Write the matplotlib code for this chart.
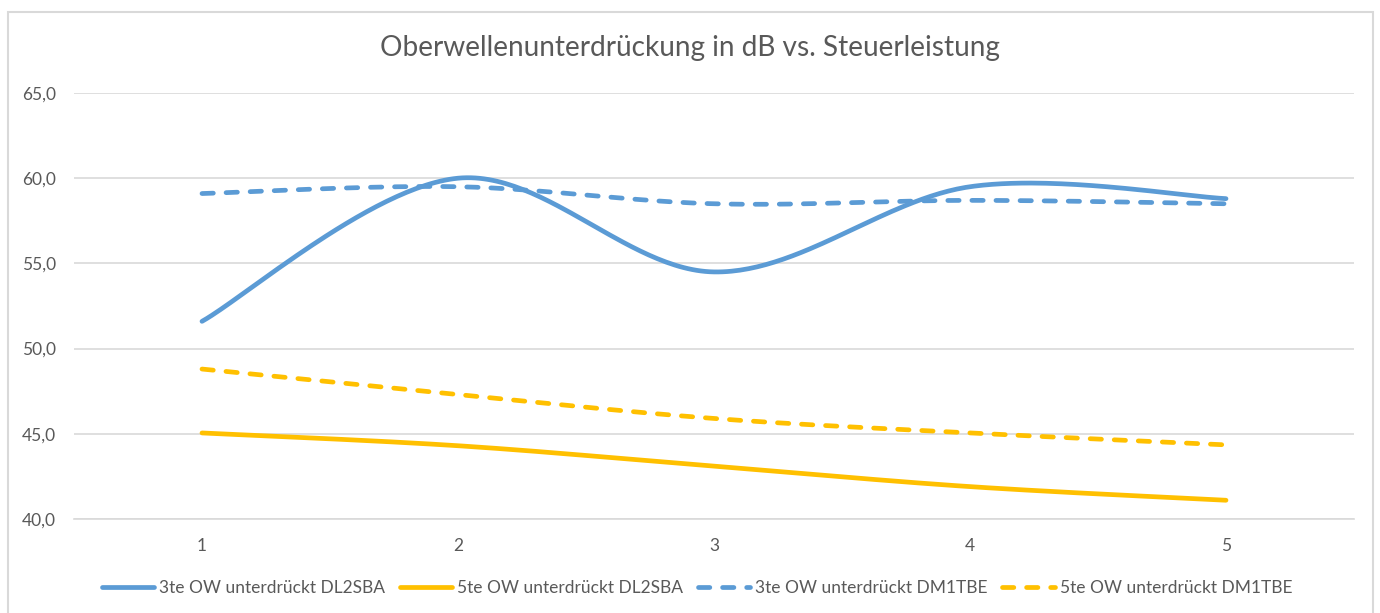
import numpy as np
import matplotlib
matplotlib.use("Agg")
import matplotlib.pyplot as plt
from matplotlib.ticker import FuncFormatter, MultipleLocator
from matplotlib.patches import Rectangle

categories = [1, 2, 3, 4, 5]
ow3_dl2sba = [51.6, 60.0, 54.5, 59.5, 58.8]
ow5_dl2sba = [45.05, 44.3, 43.1, 41.9, 41.1]
ow3_dm1tbe = [59.1, 59.5, 58.5, 58.7, 58.5]
ow5_dm1tbe = [48.8, 47.3, 45.9, 45.05, 44.35]
labels = ["3te OW unterdrückt DL2SBA", "5te OW unterdrückt DL2SBA",
          "3te OW unterdrückt DM1TBE", "5te OW unterdrückt DM1TBE"]
title = "Oberwellenunterdrückung in dB vs. Steuerleistung"

BLUE = "#5B9BD5"
YELLOW = "#FFC000"
TXT = "#595959"
GRID = "#D9D9D9"

plt.rcParams['font.family'] = ['Lato', 'DejaVu Sans']


def smooth(x, y, n=60):
    # Catmull-Rom style Bezier smoothing (like Excel smoothed lines)
    x = np.asarray(x, float)
    y = np.asarray(y, float)
    P = np.column_stack([x, y])
    out = []
    for i in range(len(P) - 1):
        p0 = P[i - 1] if i > 0 else P[i]
        p1 = P[i]
        p2 = P[i + 1]
        p3 = P[i + 2] if i + 2 < len(P) else P[i + 1]
        c1 = p1 + (p2 - p0) / 6.0
        c2 = p2 - (p3 - p1) / 6.0
        t = np.linspace(0, 1, n)[:, None]
        seg = ((1 - t) ** 3) * p1 + 3 * ((1 - t) ** 2) * t * c1 + 3 * (1 - t) * t ** 2 * c2 + t ** 3 * p2
        if i > 0:
            seg = seg[1:]
        out.append(seg)
    out = np.vstack(out)
    return out[:, 0], out[:, 1]


fig = plt.figure(figsize=(13.8, 6.13), dpi=100)
W, H = 1380, 613
ax = fig.add_axes([74 / W, (H - 519) / H, 1280 / W, 426 / H])

lw = 3.4
series = [
    (ow3_dl2sba, BLUE, "-"),
    (ow5_dl2sba, YELLOW, "-"),
    (ow3_dm1tbe, BLUE, "--"),
    (ow5_dm1tbe, YELLOW, "--"),
]
handles = []
for (vals, col, ls), lab in zip(series, labels):
    sx, sy = smooth(categories, vals)
    kw = dict(color=col, lw=lw, solid_capstyle="round", dash_capstyle="round", label=lab)
    if ls == "--":
        line, = ax.plot(sx, sy, dashes=(2.4, 2.7), **kw)
    else:
        line, = ax.plot(sx, sy, **kw)
    handles.append(line)

ax.set_xlim(0.5, 5.5)
ax.set_ylim(40, 65)
ax.yaxis.set_major_locator(MultipleLocator(5))
ax.yaxis.set_major_formatter(FuncFormatter(lambda v, p: f"{v:.1f}".replace(".", ",")))
ax.set_xticks(categories)
ax.set_xticklabels([str(c) for c in categories])
ax.grid(axis="y", color=GRID, lw=1.2)
ax.set_axisbelow(True)
for s in ["top", "right", "left"]:
    ax.spines[s].set_visible(False)
ax.spines["bottom"].set_color(GRID)
ax.spines["bottom"].set_linewidth(1.2)
ax.tick_params(axis="both", length=0, colors=TXT, labelsize=12.5)
ax.tick_params(axis="y", pad=13)
ax.tick_params(axis="x", pad=14)

fig.text(690 / W, 1 - 48 / H, title, ha="center", va="center", fontsize=20.2, color=TXT)

leg = fig.legend(handles=handles, labels=labels, loc="center", bbox_to_anchor=(697 / W, 1 - 588 / H),
                 ncol=4, frameon=False, fontsize=12.5, handlelength=3.0, handletextpad=0.3,
                 columnspacing=0.85, labelcolor=TXT)

fig.patches.append(Rectangle((8 / W, -0.05), (1373 - 8) / W, 1.05 - 12 / H, transform=fig.transFigure,
                             fill=False, edgecolor=GRID, lw=1.5))

fig.savefig("out.png", dpi=100)
